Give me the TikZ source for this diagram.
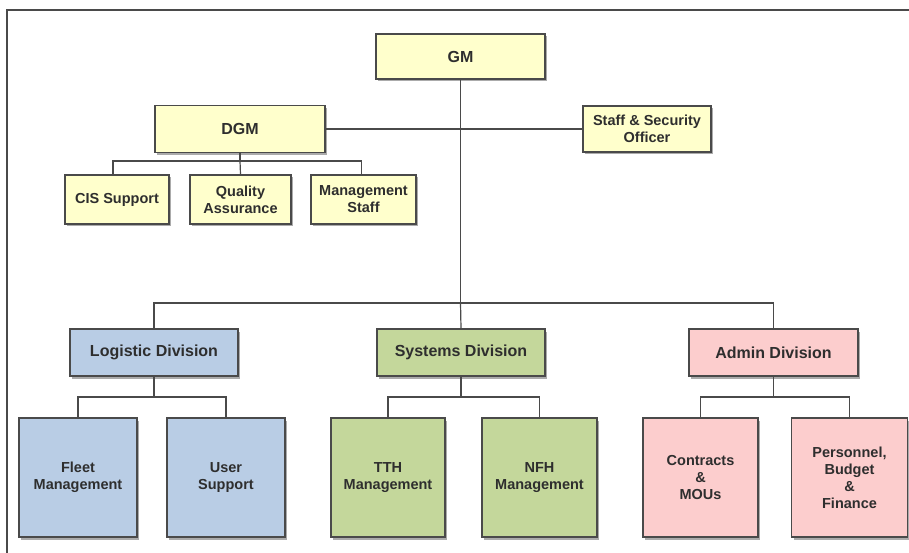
\documentclass[tikz,border=0pt]{standalone}
\usepackage{fontspec}
\setmainfont{Liberation Sans}
\usetikzlibrary{shadows}
\definecolor{yel}{HTML}{FFFFCC}
\definecolor{blu}{HTML}{B9CDE5}
\definecolor{grn}{HTML}{C4D79B}
\definecolor{pnk}{HTML}{FCCDCD}
\definecolor{edge}{HTML}{4A4A4A}
\definecolor{txt}{HTML}{2E2E2E}
\begin{document}
\begin{tikzpicture}[x=1pt,y=-1pt,
  box/.style={draw=edge,line width=1.3pt,inner sep=0pt,align=center,text=txt,
    font=\bfseries\fontsize{14.5}{17}\selectfont,
    drop shadow={shadow xshift=2.2pt,shadow yshift=-2.5pt,fill=black!60,opacity=0.55}},
  big/.style={box,font=\bfseries\fontsize{16}{19}\selectfont},
  conn/.style={draw=edge,line width=1.2pt},
  frame/.style={draw=edge,line width=1.8pt}]
\useasboundingbox (0,0) rectangle (909,553);
\fill[white] (0,0) rectangle (909,553);
\draw[frame] (7,553) -- (7,10) -- (909,10);
% top
\node[big,fill=yel,minimum width=169pt,minimum height=45pt] (GM) at (460.5,56.5) {GM};
\node[big,fill=yel,minimum width=170pt,minimum height=47pt] (DGM) at (240,129) {DGM};
\node[box,fill=yel,minimum width=128pt,minimum height=46pt] (SSO) at (647,129) {Staff \& Security\\Officer};
\node[box,fill=yel,minimum width=104pt,minimum height=49pt] (CIS) at (117,199.5) {CIS Support};
\node[box,fill=yel,minimum width=101pt,minimum height=49pt] (QA) at (240.5,199.5) {Quality\\Assurance};
\node[box,fill=yel,minimum width=105pt,minimum height=49pt] (MS) at (363.5,199.5) {Management\\Staff};
% divisions
\node[big,fill=blu,minimum width=168pt,minimum height=47pt] (Log) at (154,352.5) {Logistic Division};
\node[big,fill=grn,minimum width=168pt,minimum height=47pt] (Sys) at (461,352.5) {Systems Division};
\node[big,fill=pnk,minimum width=169pt,minimum height=47pt] (Adm) at (773.5,352.5) {Admin Division};
% units
\node[box,fill=blu,minimum width=118pt,minimum height=119pt] (Fleet) at (78,477.5) {Fleet\\Management};
\node[box,fill=blu,minimum width=118pt,minimum height=119pt] (User) at (226,477.5) {User\\Support};
\node[box,fill=grn,minimum width=114pt,minimum height=119pt] (TTH) at (388,477.5) {TTH\\Management};
\node[box,fill=grn,minimum width=115pt,minimum height=119pt] (NFH) at (539.5,477.5) {NFH\\Management};
\node[box,fill=pnk,minimum width=115pt,minimum height=119pt] (Con) at (700.5,477.5) {Contracts\\\&\\MOUs};
\node[box,fill=pnk,minimum width=116pt,minimum height=119pt] (Per) at (849.5,477.5) {Personnel,\\Budget\\\&\\Finance};
% bus points
\coordinate (busD) at (460.5,303);
\coordinate (busG) at (240,161);
\coordinate (busL) at (154,397);
\coordinate (busS) at (461,397);
\coordinate (busA) at (773.5,397);
% connectors
\begin{scope}[on background layer/.try]
\end{scope}
\draw[conn] (DGM.east) -- (SSO.west);
\draw[conn] (GM.south) -- (busD);
\draw[conn] (Log.north) |- (busD) -| (Adm.north);
\draw[conn] (busD) -- (Sys.north);
\draw[conn] (DGM.south) -- (busG);
\draw[conn] ([xshift=-4pt]CIS.north) |- (busG) -| ([xshift=-2pt]MS.north);
\draw[conn] (busG) -- (QA.north);
\draw[conn] (Log.south) -- (busL);
\draw[conn] (Fleet.north) |- (busL) -| (User.north);
\draw[conn] (Sys.south) -- (busS);
\draw[conn] (TTH.north) |- (busS) -| (NFH.north);
\draw[conn] (Adm.south) -- (busA);
\draw[conn] (Con.north) |- (busA) -| (Per.north);
\end{tikzpicture}
\end{document}
